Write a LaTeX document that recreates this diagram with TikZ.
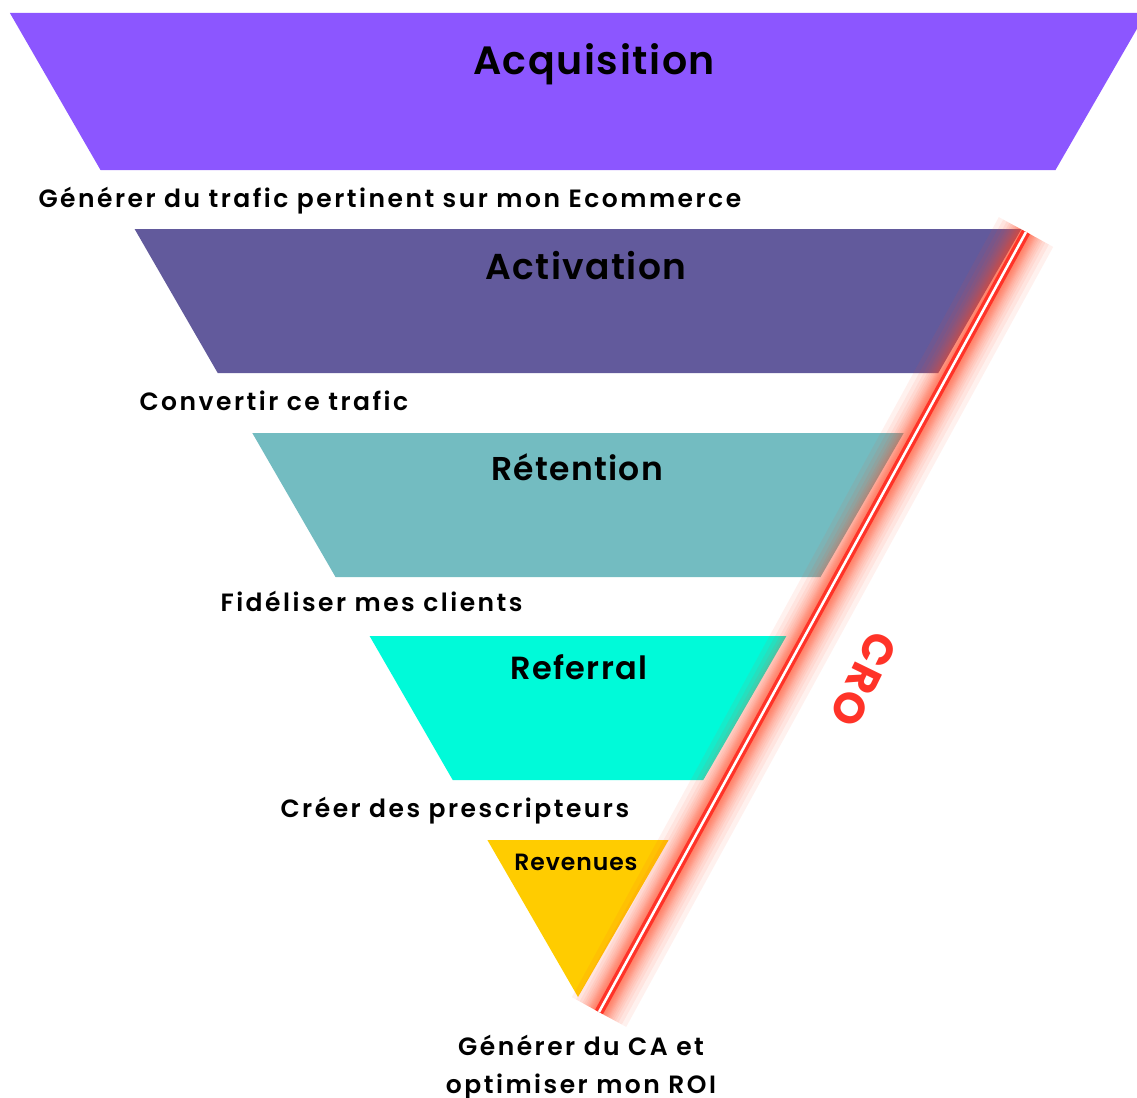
\documentclass[tikz,border=0pt]{standalone}
\usepackage{fontspec}
\setmainfont{Poppins}[UprightFont={* SemiBold}, BoldFont={* Bold}, LetterSpace=4]
\newfontfamily\capfont{Poppins}[UprightFont={* SemiBold}, LetterSpace=10]
\usepackage{tikz}
\usetikzlibrary{positioning, calc}
\definecolor{colAcq}{RGB}{140, 86, 255}
\definecolor{colAct}{RGB}{98, 90, 156}
\definecolor{colRet}{RGB}{115, 188, 193}
\definecolor{colRef}{RGB}{0, 250, 217}
\definecolor{colRev}{RGB}{255, 204, 0}
\definecolor{colCro}{RGB}{255, 51, 40}
\definecolor{colGlow}{RGB}{255, 75, 40}

\begin{document}
\begin{tikzpicture}[x=1pt, y=-1pt,
    title/.style={anchor=base, font=\fontsize{#1}{#1}\selectfont},
    caption/.style={anchor=base west, font=\capfont\fontsize{25}{30}\selectfont}]
    \useasboundingbox (0,0) rectangle (1137,1097);

    % --- Etape 1: Acquisition ---
    \fill[colAcq] (9.9,13) -- (1146.1,13) -- (1055.5,170) -- (100.5,170) -- cycle;
    \node[title=39.5] (acq) at (594,75) {Acquisition};
    \node[caption] (acqTxt) at (35,207) {Générer du trafic pertinent sur mon Ecommerce};

    % --- Etape 2: Activation ---
    \fill[colAct] (134.6,229) -- (1021.4,229) -- (938.3,373) -- (217.7,373) -- cycle;
    \node[title=36] (act) at (586,279) {Activation};
    \node[caption] (actTxt) at (136,410) {Convertir ce trafic};

    % --- Etape 3: Rétention ---
    \fill[colRet] (252.3,433) -- (903.7,433) -- (820.5,577) -- (335.5,577) -- cycle;
    \node[title=33] (ret) at (577,480) {Rétention};
    \node[caption] (retTxt) at (217,611) {Fidéliser mes clients};

    % --- Etape 4: Referral ---
    \fill[colRef] (369.6,636) -- (786.4,636) -- (703.3,780) -- (452.7,780) -- cycle;
    \node[title=32] (ref) at (579,679) {Referral};
    \node[caption] (refTxt) at (277,817) {Créer des prescripteurs};

    % --- Etape 5: Revenues (pointe) ---
    \fill[colRev] (487.4,840) -- (668.6,840) -- (578,997) -- cycle;
    \node[title=23.5] (rev) at (576,870) {Revenues};
    \node[anchor=base, align=center, font=\capfont\fontsize{25}{38}\selectfont] (revTxt) at (581,1093)
        {Générer du CA et\\optimiser mon ROI};

    % Ligne CRO avec halo
    \coordinate (croTop) at (1026,232);
    \coordinate (croBot) at (599,1012);
    \foreach \w in {10,12,14,16,18,20,22,24,27,30,34,38,44,52,62}
        \draw[colGlow, line width=\w, opacity=0.08] (croTop) -- (croBot);
    \draw[colCro, line width=9] (croTop) -- (croBot);
    \draw[white, line width=2.5] (croTop) -- (croBot);

    \node[text=colCro, font=\fontsize{43}{43}\selectfont\bfseries, rotate=-116] (cro) at (864,679) {CRO};

\end{tikzpicture}
\end{document}
